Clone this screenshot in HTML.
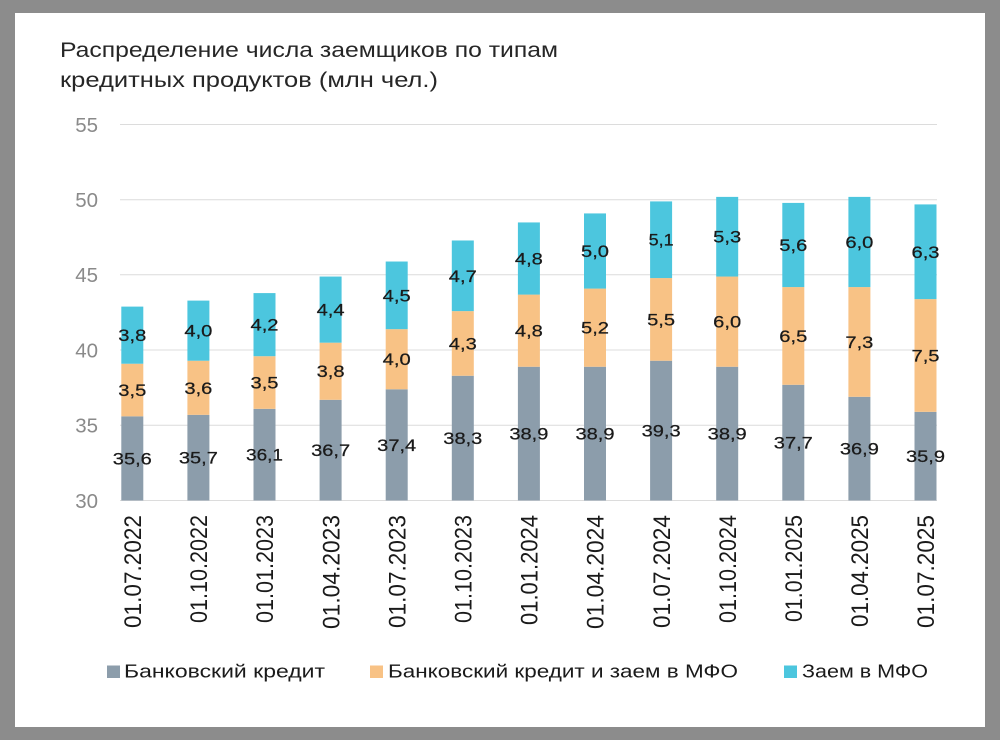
<!DOCTYPE html>
<html>
<head>
<meta charset="utf-8">
<style>
html,body{margin:0;padding:0;background:#8c8c8c;}
svg{display:block;}
text{font-family:"Liberation Sans","DejaVu Sans",sans-serif;}
</style>
</head>
<body>
<svg width="1000" height="740" viewBox="0 0 1000 740" xmlns="http://www.w3.org/2000/svg">
<rect x="0" y="0" width="1000" height="740" fill="#8c8c8c"/>
<rect x="15" y="13" width="970" height="714" fill="#ffffff"/>

<!-- Title -->
<text x="60" y="57" font-size="21" fill="#262626" textLength="498" lengthAdjust="spacingAndGlyphs">Распределение числа заемщиков по типам</text>
<text x="60" y="87" font-size="21" fill="#262626" textLength="378" lengthAdjust="spacingAndGlyphs">кредитных продуктов (млн чел.)</text>

<!-- Gridlines -->
<g stroke="#dcdcdc" stroke-width="1">
<line x1="120" y1="124.5" x2="937" y2="124.5"/>
<line x1="120" y1="199.7" x2="937" y2="199.7"/>
<line x1="120" y1="274.8" x2="937" y2="274.8"/>
<line x1="120" y1="350" x2="937" y2="350"/>
<line x1="120" y1="425.2" x2="937" y2="425.2"/>
<line x1="120" y1="500.5" x2="937" y2="500.5"/>
</g>

<!-- Y labels -->
<g font-size="20.5" fill="#8a8a8a" text-anchor="end">
<text x="98" y="132">55</text>
<text x="98" y="207">50</text>
<text x="98" y="282">45</text>
<text x="98" y="357.5">40</text>
<text x="98" y="432.5">35</text>
<text x="98" y="508">30</text>
</g>

<!-- Bars -->
<g>
<rect x="121.3" y="416.33" width="22" height="84.17" fill="#8c9dab"/>
<rect x="121.3" y="363.73" width="22" height="52.6" fill="#f8c285"/>
<rect x="121.3" y="306.61" width="22" height="57.12" fill="#4cc6de"/>
<rect x="187.4" y="414.83" width="22" height="85.67" fill="#8c9dab"/>
<rect x="187.4" y="360.72" width="22" height="54.11" fill="#f8c285"/>
<rect x="187.4" y="300.6" width="22" height="60.12" fill="#4cc6de"/>
<rect x="253.5" y="408.82" width="22" height="91.68" fill="#8c9dab"/>
<rect x="253.5" y="356.21" width="22" height="52.61" fill="#f8c285"/>
<rect x="253.5" y="293.09" width="22" height="63.12" fill="#4cc6de"/>
<rect x="319.6" y="399.8" width="22" height="100.7" fill="#8c9dab"/>
<rect x="319.6" y="342.68" width="22" height="57.12" fill="#f8c285"/>
<rect x="319.6" y="276.55" width="22" height="66.13" fill="#4cc6de"/>
<rect x="385.7" y="389.28" width="22" height="111.22" fill="#8c9dab"/>
<rect x="385.7" y="329.16" width="22" height="60.12" fill="#f8c285"/>
<rect x="385.7" y="261.52" width="22" height="67.64" fill="#4cc6de"/>
<rect x="451.8" y="375.75" width="22" height="124.75" fill="#8c9dab"/>
<rect x="451.8" y="311.12" width="22" height="64.63" fill="#f8c285"/>
<rect x="451.8" y="240.48" width="22" height="70.64" fill="#4cc6de"/>
<rect x="517.9" y="366.73" width="22" height="133.77" fill="#8c9dab"/>
<rect x="517.9" y="294.59" width="22" height="72.14" fill="#f8c285"/>
<rect x="517.9" y="222.44" width="22" height="72.15" fill="#4cc6de"/>
<rect x="584" y="366.73" width="22" height="133.77" fill="#8c9dab"/>
<rect x="584" y="288.58" width="22" height="78.15" fill="#f8c285"/>
<rect x="584" y="213.43" width="22" height="75.15" fill="#4cc6de"/>
<rect x="650.1" y="360.72" width="22" height="139.78" fill="#8c9dab"/>
<rect x="650.1" y="278.06" width="22" height="82.66" fill="#f8c285"/>
<rect x="650.1" y="201.4" width="22" height="76.66" fill="#4cc6de"/>
<rect x="716.2" y="366.73" width="22" height="133.77" fill="#8c9dab"/>
<rect x="716.2" y="276.55" width="22" height="90.18" fill="#f8c285"/>
<rect x="716.2" y="196.89" width="22" height="79.66" fill="#4cc6de"/>
<rect x="782.3" y="384.77" width="22" height="115.73" fill="#8c9dab"/>
<rect x="782.3" y="287.07" width="22" height="97.7" fill="#f8c285"/>
<rect x="782.3" y="202.91" width="22" height="84.16" fill="#4cc6de"/>
<rect x="848.4" y="396.79" width="22" height="103.71" fill="#8c9dab"/>
<rect x="848.4" y="287.07" width="22" height="109.72" fill="#f8c285"/>
<rect x="848.4" y="196.89" width="22" height="90.18" fill="#4cc6de"/>
<rect x="914.5" y="411.82" width="22" height="88.68" fill="#8c9dab"/>
<rect x="914.5" y="299.1" width="22" height="112.72" fill="#f8c285"/>
<rect x="914.5" y="204.41" width="22" height="94.69" fill="#4cc6de"/>
</g>

<!-- Bar labels -->
<g font-size="17" fill="#1a1a1a" text-anchor="middle" stroke="#1a1a1a" stroke-width="0.25">
<text x="132.3" y="464.4" textLength="39" lengthAdjust="spacingAndGlyphs">35,6</text>
<text x="132.3" y="396" textLength="28" lengthAdjust="spacingAndGlyphs">3,5</text>
<text x="132.3" y="341.2" textLength="28" lengthAdjust="spacingAndGlyphs">3,8</text>

<text x="198.4" y="463.7" textLength="39" lengthAdjust="spacingAndGlyphs">35,7</text>
<text x="198.4" y="393.8" textLength="28" lengthAdjust="spacingAndGlyphs">3,6</text>
<text x="198.4" y="336.7" textLength="28" lengthAdjust="spacingAndGlyphs">4,0</text>

<text x="264.5" y="460.7" textLength="37" lengthAdjust="spacingAndGlyphs">36,1</text>
<text x="264.5" y="388.5" textLength="28" lengthAdjust="spacingAndGlyphs">3,5</text>
<text x="264.5" y="330.7" textLength="28" lengthAdjust="spacingAndGlyphs">4,2</text>

<text x="330.6" y="456.2" textLength="39" lengthAdjust="spacingAndGlyphs">36,7</text>
<text x="330.6" y="377.2" textLength="28" lengthAdjust="spacingAndGlyphs">3,8</text>
<text x="330.6" y="315.6" textLength="28" lengthAdjust="spacingAndGlyphs">4,4</text>

<text x="396.7" y="450.9" textLength="39" lengthAdjust="spacingAndGlyphs">37,4</text>
<text x="396.7" y="365.2" textLength="28" lengthAdjust="spacingAndGlyphs">4,0</text>
<text x="396.7" y="301.3" textLength="28" lengthAdjust="spacingAndGlyphs">4,5</text>

<text x="462.8" y="444.1" textLength="39" lengthAdjust="spacingAndGlyphs">38,3</text>
<text x="462.8" y="349.4" textLength="28" lengthAdjust="spacingAndGlyphs">4,3</text>
<text x="462.8" y="281.8" textLength="28" lengthAdjust="spacingAndGlyphs">4,7</text>

<text x="528.9" y="439.6" textLength="39" lengthAdjust="spacingAndGlyphs">38,9</text>
<text x="528.9" y="336.7" textLength="28" lengthAdjust="spacingAndGlyphs">4,8</text>
<text x="528.9" y="264.5" textLength="28" lengthAdjust="spacingAndGlyphs">4,8</text>

<text x="595" y="439.6" textLength="39" lengthAdjust="spacingAndGlyphs">38,9</text>
<text x="595" y="333.7" textLength="28" lengthAdjust="spacingAndGlyphs">5,2</text>
<text x="595" y="257" textLength="28" lengthAdjust="spacingAndGlyphs">5,0</text>

<text x="661.1" y="436.6" textLength="39" lengthAdjust="spacingAndGlyphs">39,3</text>
<text x="661.1" y="325.4" textLength="28" lengthAdjust="spacingAndGlyphs">5,5</text>
<text x="661.1" y="245.7" textLength="25" lengthAdjust="spacingAndGlyphs">5,1</text>

<text x="727.2" y="439.6" textLength="39" lengthAdjust="spacingAndGlyphs">38,9</text>
<text x="727.2" y="327.6" textLength="28" lengthAdjust="spacingAndGlyphs">6,0</text>
<text x="727.2" y="242.7" textLength="28" lengthAdjust="spacingAndGlyphs">5,3</text>

<text x="793.3" y="448.6" textLength="39" lengthAdjust="spacingAndGlyphs">37,7</text>
<text x="793.3" y="341.9" textLength="28" lengthAdjust="spacingAndGlyphs">6,5</text>
<text x="793.3" y="251" textLength="28" lengthAdjust="spacingAndGlyphs">5,6</text>

<text x="859.4" y="454.6" textLength="39" lengthAdjust="spacingAndGlyphs">36,9</text>
<text x="859.4" y="347.9" textLength="28" lengthAdjust="spacingAndGlyphs">7,3</text>
<text x="859.4" y="248" textLength="28" lengthAdjust="spacingAndGlyphs">6,0</text>

<text x="925.5" y="462.2" textLength="39" lengthAdjust="spacingAndGlyphs">35,9</text>
<text x="925.5" y="361.5" textLength="28" lengthAdjust="spacingAndGlyphs">7,5</text>
<text x="925.5" y="257.8" textLength="28" lengthAdjust="spacingAndGlyphs">6,3</text>
</g>

<!-- X labels -->
<g font-size="24" fill="#1a1a1a" text-anchor="end">
<text transform="translate(141,515) rotate(-90)" textLength="113" lengthAdjust="spacingAndGlyphs">01.07.2022</text>
<text transform="translate(207.1,515) rotate(-90)" textLength="108" lengthAdjust="spacingAndGlyphs">01.10.2022</text>
<text transform="translate(273.2,515) rotate(-90)" textLength="108" lengthAdjust="spacingAndGlyphs">01.01.2023</text>
<text transform="translate(339.3,515) rotate(-90)" textLength="114" lengthAdjust="spacingAndGlyphs">01.04.2023</text>
<text transform="translate(405.4,515) rotate(-90)" textLength="113" lengthAdjust="spacingAndGlyphs">01.07.2023</text>
<text transform="translate(471.5,515) rotate(-90)" textLength="108" lengthAdjust="spacingAndGlyphs">01.10.2023</text>
<text transform="translate(537.6,515) rotate(-90)" textLength="110" lengthAdjust="spacingAndGlyphs">01.01.2024</text>
<text transform="translate(603.7,515) rotate(-90)" textLength="114" lengthAdjust="spacingAndGlyphs">01.04.2024</text>
<text transform="translate(669.8,515) rotate(-90)" textLength="113" lengthAdjust="spacingAndGlyphs">01.07.2024</text>
<text transform="translate(735.9,515) rotate(-90)" textLength="108" lengthAdjust="spacingAndGlyphs">01.10.2024</text>
<text transform="translate(802,515) rotate(-90)" textLength="107" lengthAdjust="spacingAndGlyphs">01.01.2025</text>
<text transform="translate(868.1,515) rotate(-90)" textLength="112" lengthAdjust="spacingAndGlyphs">01.04.2025</text>
<text transform="translate(934.2,515) rotate(-90)" textLength="113" lengthAdjust="spacingAndGlyphs">01.07.2025</text>
</g>

<!-- Legend -->
<rect x="107" y="665.5" width="13" height="12.5" fill="#8c9dab"/>
<text x="124" y="677.5" font-size="18" fill="#1a1a1a" textLength="201" lengthAdjust="spacingAndGlyphs">Банковский кредит</text>
<rect x="370" y="665.5" width="13" height="12.5" fill="#f8c285"/>
<text x="388" y="677.5" font-size="18" fill="#1a1a1a" textLength="350" lengthAdjust="spacingAndGlyphs">Банковский кредит и заем в МФО</text>
<rect x="784" y="665.5" width="13" height="12.5" fill="#4cc6de"/>
<text x="802" y="677.5" font-size="18" fill="#1a1a1a" textLength="126" lengthAdjust="spacingAndGlyphs">Заем в МФО</text>
</svg>
</body>
</html>
